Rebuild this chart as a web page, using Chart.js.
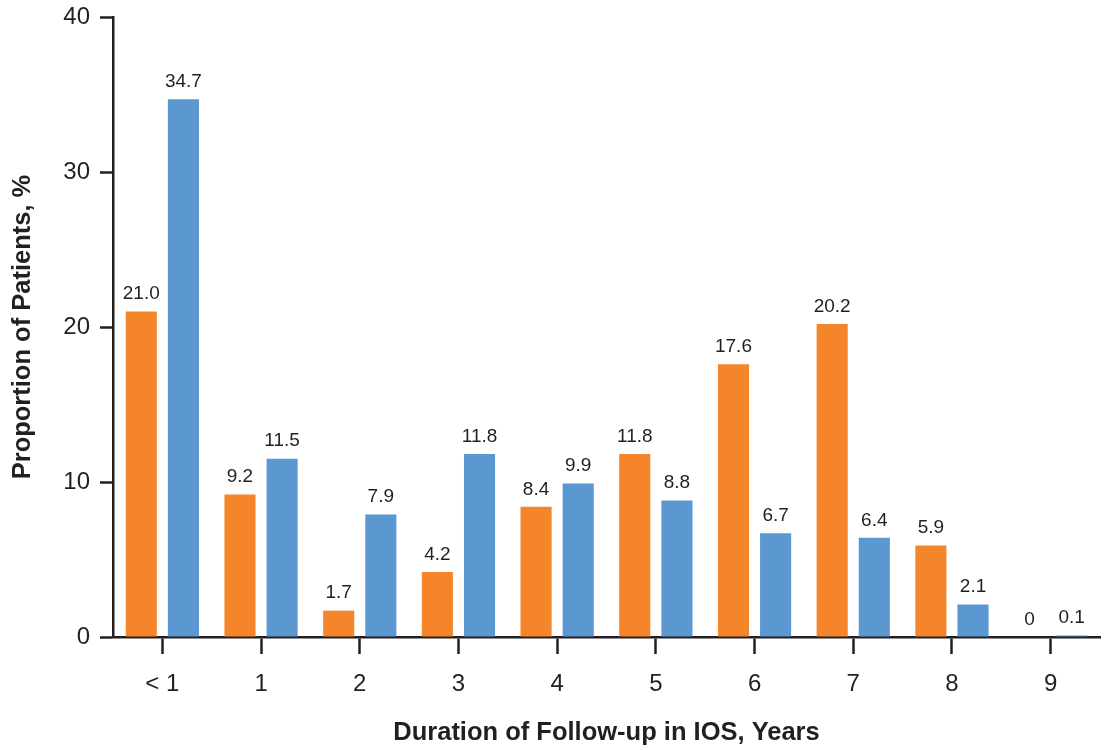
<!DOCTYPE html>
<html>
<head>
<meta charset="utf-8">
<script src="https://cdn.jsdelivr.net/npm/chart.js@4"></script>
<style>
  html, body { margin: 0; padding: 0; background: #fff; }
  #wrap { width: 1106px; height: 750px; }
</style>
</head>
<body>
<div id="wrap"><canvas id="chart" width="1106" height="750"></canvas></div>
<script>
// Valores
const categorias = ['< 1', '1', '2', '3', '4', '5', '6', '7', '8', '9'];
const serieLaranja = [21.0, 9.2, 1.7, 4.2, 8.4, 11.8, 17.6, 20.2, 5.9, 0];
const serieAzul = [34.7, 11.5, 7.9, 11.8, 9.9, 8.8, 6.7, 6.4, 2.1, 0.1];
const ticksY = [0, 10, 20, 30, 40];

const corEixo = '#231f20';
const fonte = '"Liberation Sans", Arial, Helvetica, sans-serif';

// Rótulos em cima das barras
const rotulosBarras = {
    id: 'rotulosBarras',
    afterDatasetsDraw(chart) {
        const ctx = chart.ctx;
        ctx.save();
        ctx.font = '19px ' + fonte;
        ctx.fillStyle = corEixo;
        ctx.textAlign = 'center';
        ctx.textBaseline = 'bottom';
        chart.data.datasets.forEach((ds, i) => {
            chart.getDatasetMeta(i).data.forEach((bar, j) => {
                const v = ds.data[j];
                const texto = v === 0 ? '0' : v.toFixed(1);
                ctx.fillText(texto, bar.x, bar.y - 8);
            });
        });
        ctx.restore();
    }
};

const ctx = document.getElementById('chart').getContext('2d');
new Chart(ctx, {
    type: 'bar',
    data: {
        labels: categorias,
        datasets: [
            {
                data: serieLaranja,
                backgroundColor: '#f5852b',
                categoryPercentage: 0.854,
                barPercentage: 0.738
            },
            {
                data: serieAzul,
                backgroundColor: '#5b97d1',
                categoryPercentage: 0.854,
                barPercentage: 0.738
            }
        ]
    },
    options: {
        responsive: false,
        animation: false,
        devicePixelRatio: 1,
        layout: { padding: { top: 17, right: 6, left: 0, bottom: 0 } },
        plugins: {
            legend: { display: false },
            tooltip: { enabled: false }
        },
        scales: {
            x: {
                afterFit: (scale) => {
                    scale.height = 113;
                    scale.paddingLeft = 0;
                    scale.paddingRight = 0;
                },
                grid: {
                    display: true,
                    offset: false,
                    drawOnChartArea: false,
                    drawTicks: true,
                    tickLength: 17,
                    tickWidth: 2.5,
                    tickColor: corEixo
                },
                border: { display: true, color: corEixo, width: 2.5 },
                ticks: {
                    color: corEixo,
                    padding: 16,
                    font: { family: fonte, size: 24 }
                },
                title: {
                    display: true,
                    text: 'Duration of Follow-up in IOS, Years',
                    color: corEixo,
                    font: { family: fonte, size: 25.5, weight: 'bold' },
                    padding: { top: 0, bottom: 2 }
                }
            },
            y: {
                min: 0,
                max: 40,
                afterFit: (scale) => {
                    scale.width = 113;
                    scale.paddingTop = 0;
                    scale.paddingBottom = 0;
                },
                afterBuildTicks: (scale) => { scale.ticks = ticksY.map(v => ({ value: v })); },
                grid: {
                    display: true,
                    drawOnChartArea: false,
                    drawTicks: true,
                    tickLength: 13,
                    tickWidth: 2.5,
                    tickColor: corEixo
                },
                border: { display: true, color: corEixo, width: 2.5 },
                ticks: {
                    color: corEixo,
                    padding: 10,
                    font: { family: fonte, size: 24 }
                },
                title: {
                    display: true,
                    text: 'Proportion of Patients, %',
                    color: corEixo,
                    font: { family: fonte, size: 25.5, weight: 'bold' },
                    padding: { top: 8, bottom: 4 }
                }
            }
        }
    },
    plugins: [rotulosBarras]
});
</script>
</body>
</html>
